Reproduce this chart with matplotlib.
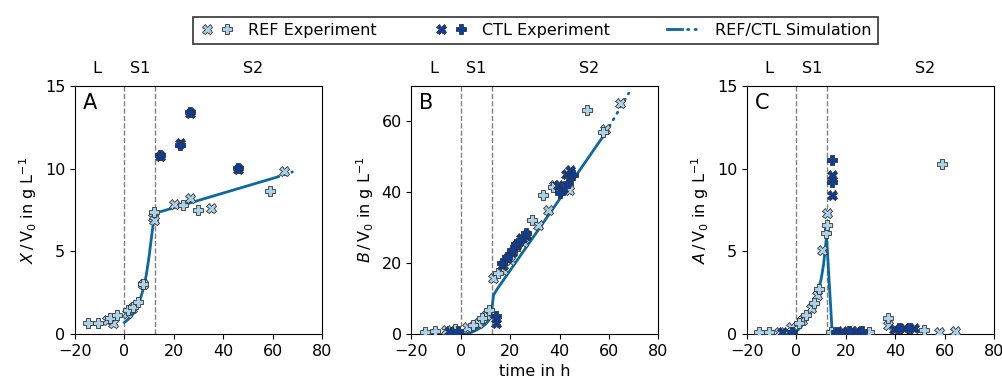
#
# Biomass, product and acid over time for REF / CTL runs
#

import numpy as np
import matplotlib.pyplot as plt
from matplotlib.lines import Line2D
from matplotlib.legend_handler import HandlerTuple

plt.rcParams["mathtext.fontset"] = "dejavusans"
plt.rcParams["font.size"] = 11.5

c_ref = "#a9d2ea"
c_ctl = "#0a3d9c"
c_sim = "#0a68a2"

# phase boundaries
t_phase = [0, 12.4]

# --- panel A: X ---
refX_tx = [-7, -4.5, 1.0, 3.0, 7.4, 11.5, 12.0, 19.9, 26.4, 35.0, 64.7]
refX_x = [0.85, 0.65, 1.3, 1.6, 3.0, 7.1, 6.9, 7.85, 8.25, 7.6, 9.85]
refP_tx = [-14.9, -10.5, -5.8, -2.8, 1.6, 3.6, 5.7, 7.4, 12.0, 23.6, 29.6, 59.0]
refP_x = [0.65, 0.65, 0.95, 1.15, 1.45, 1.65, 1.95, 3.05, 7.4, 7.8, 7.5, 8.65]
ctlX_tx = [14.5, 22.6, 26.6, 45.8]
ctlX_x = [10.75, 11.55, 13.35, 10.0]
ctlP_tx = [14.5, 22.6, 26.6, 45.8]
ctlP_x = [10.8, 11.45, 13.4, 10.05]
sim_tx = [0, 2, 4, 6, 8, 9, 10, 11, 12, 12.4, 62, 68]
sim_x = [0.7, 0.95, 1.3, 1.9, 2.9, 3.7, 4.7, 5.9, 7.0, 7.3, 9.5, 9.8]

# --- panel B: B ---
refX_tb = [-6, 2.3, 7.0, 10.1, 13.1, 17, 20, 25, 31.3, 35.3, 37.6, 43.8, 58.2, 64.6]
refX_b = [1.0, 2.1, 3.0, 5.4, 15.7, 18, 21, 26, 30.8, 35.0, 42.1, 40.6, 58.0, 65.1]
refP_tb = [-14.6, -10.5, -2.4, 5.0, 8.4, 11.5, 15.1, 22, 28.6, 33.3, 37.1, 51.1, 57.5]
refP_b = [0.7, 0.9, 1.3, 2.5, 4.4, 6.8, 17.1, 24, 32.2, 39.2, 41.6, 63.2, 57.1]
ctlX_tb = [-5, 14.4, 16.5, 18.5, 20.5, 22.5, 24.5, 26.5, 39.4, 41.4, 42.7, 44.1]
ctlX_b = [0.95, 3.0, 19.5, 21.4, 23.2, 25.0, 27.0, 28.0, 42.1, 41.1, 45.3, 46.3]
ctlP_tb = [-1, 14.4, 16.5, 18.5, 20.5, 22.5, 24.5, 26.5, 40.0, 43.4, 45.2]
ctlP_b = [0.95, 5.0, 20.0, 21.8, 23.8, 25.5, 26.5, 28.5, 39.7, 42.5, 44.9]
sim_tb = [0, 2, 4, 6, 8, 10, 11, 12, 12.4, 13.2, 15, 20, 58.6, 68]
sim_b = [0, 0, 0.4, 1.0, 1.8, 2.8, 3.6, 5.0, 6.0, 11.0, 13.0, 18.0, 56.8, 68]

# --- panel C: A ---
refX_ta = [-7, -2.3, 2.4, 5.8, 8.5, 10.5, 12.5, 22.6, 37.2, 57.7, 64.4]
refX_a = [0.15, 0.45, 0.85, 1.55, 2.35, 5.1, 7.3, 0.2, 0.55, 0.15, 0.2]
refP_ta = [-15.1, -11, 1.1, 3.8, 7.1, 9.2, 11.9, 12.3, 13.9, 29.4, 37.2, 51.6, 58.8]
refP_a = [0.15, 0.15, 0.65, 1.15, 1.85, 2.75, 6.1, 6.6, 0.15, 0.15, 0.95, 0.25, 10.3]
ctlX_ta = [-5.7, 14.3, 14.3, 18.6, 24, 39.5, 43.5, 47.6]
ctlX_a = [0.15, 9.6, 8.4, 0.2, 0.2, 0.3, 0.35, 0.35]
ctlP_ta = [-1.6, 14.3, 14.3, 15.9, 21.3, 26.7, 41.5, 45.5]
ctlP_a = [0.15, 10.55, 9.2, 0.15, 0.2, 0.2, 0.35, 0.35]
sim_ta = [0, 2, 4, 6, 8, 10, 11, 12.2, 14.5, 20, 68]
sim_a = [0.15, 0.45, 0.85, 1.45, 2.2, 3.3, 4.2, 5.9, 0.05, 0.02, 0.02]

panels = [
    ("A", r"$X\,/\,\mathrm{V}_0$ in g L$^{-1}$", 15, [0, 5, 10, 15], 62,
     refX_tx, refX_x, refP_tx, refP_x, ctlX_tx, ctlX_x, ctlP_tx, ctlP_x, sim_tx, sim_x),
    ("B", r"$B\,/\,\mathrm{V}_0$ in g L$^{-1}$", 70, [0, 20, 40, 60], 58.6,
     refX_tb, refX_b, refP_tb, refP_b, ctlX_tb, ctlX_b, ctlP_tb, ctlP_b, sim_tb, sim_b),
    ("C", r"$A\,/\,\mathrm{V}_0$ in g L$^{-1}$", 15, [0, 5, 10, 15], 62,
     refX_ta, refX_a, refP_ta, refP_a, ctlX_ta, ctlX_a, ctlP_ta, ctlP_a, sim_ta, sim_a),
]

fig = plt.figure(figsize=(10.03, 3.87), dpi=100)
lefts = [75, 411.5, 747]
mk = dict(markersize=7.2, markeredgecolor="#333333", markeredgewidth=0.6, linestyle="none")

for i, (lab, ylab, ymax, yt, tsplit, rxt, rx, rpt, rp, cxt, cx, cpt, cp, st, sv) in enumerate(panels):
    ax = fig.add_axes([lefts[i] / 1003, 1 - 334 / 387, 247 / 1003, 248 / 387])
    for tp in t_phase:
        ax.axvline(tp, color="gray", linestyle="--", linewidth=1, zorder=1)
    st = np.array(st)
    sv = np.array(sv)
    solid = st <= tsplit
    ax.plot(st[solid], sv[solid], color=c_sim, linewidth=2, zorder=2)
    ds = st >= tsplit
    t_dot = np.concatenate([[tsplit], st[ds]])
    v_dot = np.interp(t_dot, st, sv)
    ax.plot(t_dot, v_dot, color=c_sim, linewidth=2, linestyle=(0, (0.5, 2.2)),
            dash_capstyle="round", zorder=2)
    ax.plot(rxt, rx, marker="X", color=c_ref, zorder=3, **mk)
    ax.plot(rpt, rp, marker="P", color=c_ref, zorder=3, **mk)
    ax.plot(cxt, cx, marker="X", color=c_ctl, zorder=4, **mk)
    ax.plot(cpt, cp, marker="P", color=c_ctl, zorder=4, **mk)
    ax.set_xlim(-20, 80)
    ax.set_ylim(0, ymax)
    ax.set_xticks([-20, 0, 20, 40, 60, 80])
    ax.set_yticks(yt)
    ax.set_ylabel(ylab)
    ax.text(0.03, 0.97, lab, transform=ax.transAxes, fontsize=15, va="top", ha="left")
    tr = ax.get_xaxis_transform()
    for name, xp in [("L", -11), ("S1", 6.2), ("S2", 52)]:
        ax.text(xp, 1.04, name, transform=tr, ha="center", va="bottom")
    if i == 1:
        ax.set_xlabel("time in h")

h_ref = (Line2D([], [], marker="X", color=c_ref, **mk), Line2D([], [], marker="P", color=c_ref, **mk))
h_ctl = (Line2D([], [], marker="X", color=c_ctl, **mk), Line2D([], [], marker="P", color=c_ctl, **mk))
h_sim = (Line2D([], [], color=c_sim, linewidth=2),
         Line2D([], [], color=c_sim, linewidth=2, linestyle=(0, (0.5, 2.2)), dash_capstyle="round"))
leg = fig.legend([h_ref, h_ctl, h_sim], ["REF Experiment", "CTL Experiment", "REF/CTL Simulation"],
                 handler_map={tuple: HandlerTuple(ndivide=None, pad=0.3)},
                 loc="upper center", bbox_to_anchor=(0.534, 0.978), ncol=3, fancybox=False,
                 edgecolor="black", columnspacing=3.6, handlelength=2.2, borderpad=0.4)
leg.get_frame().set_linewidth(1.2)

fig.savefig("out.png", dpi=100)
